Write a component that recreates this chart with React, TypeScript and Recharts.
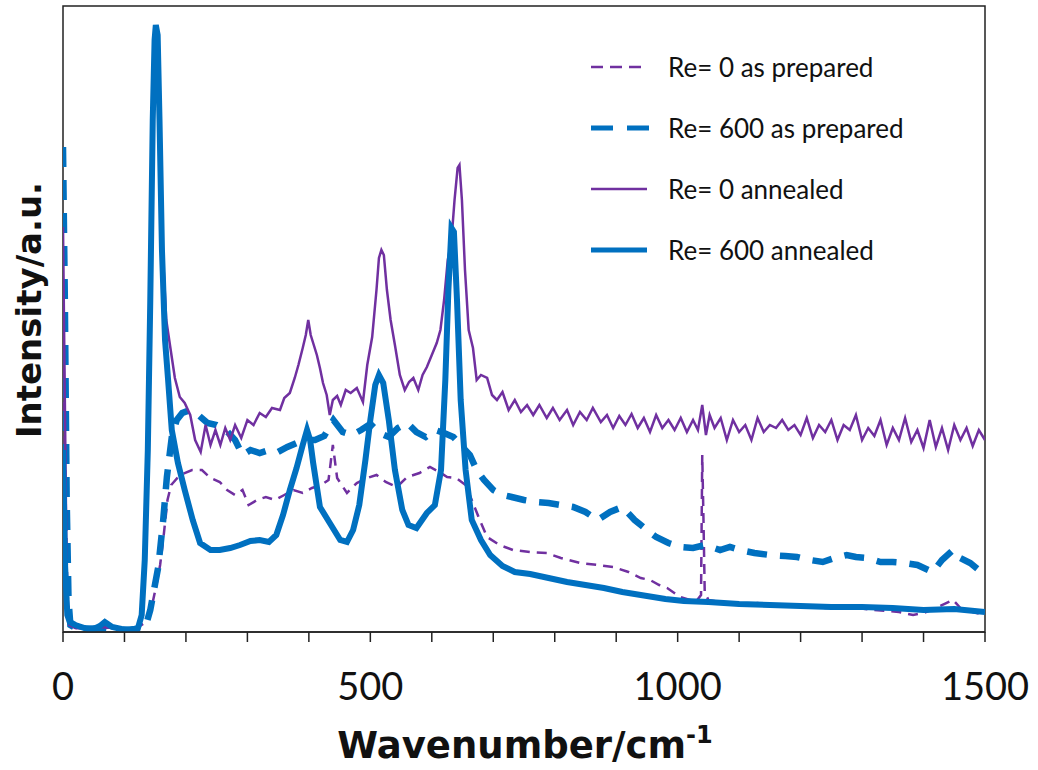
import React from 'react';
import { LineChart, Line, XAxis, YAxis, ReferenceArea } from 'recharts';

const PURPLE = '#7030a0';
const BLUE = '#0070c0';

// [wavenumber, intensity] (intensity in arbitrary units)
const re0Prepared: number[][] = [
  [0, 332], [3, 182], [7, 42], [11, 7], [25, 3], [40, 4], [60, 3], [80, 5], [100, 3], [120, 4],
  [135, 10], [145, 27], [152, 47], [158, 67], [163, 92], [170, 132], [176, 147], [186, 154],
  [198, 159], [210, 162], [226, 162], [240, 154], [255, 150], [267, 142], [280, 137], [292, 142],
  [302, 127], [316, 132], [330, 135], [345, 132], [360, 137], [375, 142], [390, 139], [405, 144],
  [420, 147], [432, 152], [439, 187], [446, 154], [462, 139], [478, 149], [495, 154], [510, 157],
  [525, 150], [543, 145], [560, 155], [580, 159], [597, 165], [612, 160], [625, 155], [640, 154],
  [655, 147], [667, 129], [678, 112], [690, 95], [710, 87], [732, 82], [760, 80], [787, 79],
  [810, 74], [841, 69], [870, 67], [895, 65], [920, 60], [940, 54], [955, 52], [970, 47],
  [983, 44], [1004, 35], [1020, 32], [1032, 32], [1038, 37], [1040, 177], [1042, 112], [1044, 40],
  [1050, 32], [1070, 30], [1100, 27], [1130, 29], [1160, 26], [1200, 27], [1240, 24], [1280, 25],
  [1320, 22], [1360, 20], [1383, 17], [1400, 19], [1420, 24], [1448, 32], [1460, 24], [1480, 20],
  [1500, 17],
];

const re600Prepared: number[][] = [
  [0, 485], [3, 332], [6, 132], [9, 32], [12, 7], [20, 4], [40, 3], [60, 4], [80, 3], [100, 2],
  [120, 3], [135, 7], [142, 22], [148, 42], [155, 65], [163, 112], [169, 155], [177, 195],
  [185, 212], [194, 219], [207, 222], [220, 217], [235, 209], [250, 207], [265, 202], [280, 192],
  [292, 177], [305, 182], [320, 179], [335, 182], [350, 180], [365, 185], [380, 189], [395, 192],
  [410, 192], [425, 196], [440, 212], [455, 200], [470, 197], [485, 202], [500, 208], [515, 199],
  [530, 195], [545, 204], [560, 209], [575, 200], [590, 195], [605, 202], [620, 199], [635, 195],
  [650, 185], [662, 177], [673, 162], [685, 152], [700, 142], [715, 137], [730, 135], [750, 132],
  [770, 130], [790, 129], [810, 127], [830, 125], [850, 120], [870, 112], [890, 120], [910, 125],
  [930, 112], [950, 102], [965, 95], [985, 89], [1005, 85], [1025, 84], [1045, 87], [1069, 82],
  [1085, 85], [1101, 82], [1125, 79], [1150, 77], [1175, 76], [1194, 75], [1215, 72], [1236, 70],
  [1255, 74], [1275, 77], [1290, 75], [1308, 74], [1330, 70], [1350, 70], [1370, 69], [1390, 67],
  [1415, 60], [1430, 72], [1448, 82], [1460, 74], [1476, 69], [1490, 62], [1500, 57],
];

const re0Annealed: number[][] = [
  [0, 405], [3, 232], [6, 52], [10, 7], [20, 4], [40, 3], [60, 5], [80, 4], [100, 3], [120, 4],
  [128, 14], [134, 72], [139, 182], [143, 332], [147, 512], [150, 597], [152, 602], [155, 572],
  [159, 462], [163, 372], [168, 312], [174, 287], [182, 254], [190, 235], [198, 229], [207, 217],
  [215, 192], [224, 180], [232, 207], [240, 187], [248, 202], [256, 187], [264, 204], [272, 192],
  [280, 207], [290, 194], [300, 212], [310, 207], [320, 219], [330, 215], [340, 224], [353, 222],
  [360, 234], [369, 239], [377, 254], [383, 267], [390, 284], [395, 297], [399, 312], [403, 297],
  [408, 287], [413, 277], [418, 264], [423, 249], [429, 237], [434, 217], [439, 232], [446, 236],
  [452, 227], [460, 242], [468, 239], [478, 244], [488, 230], [495, 267], [503, 295], [510, 342],
  [514, 374], [518, 382], [522, 377], [527, 342], [533, 312], [540, 287], [548, 257], [556, 242],
  [563, 250], [570, 254], [578, 242], [585, 257], [592, 265], [600, 277], [608, 289], [614, 302],
  [620, 332], [626, 372], [632, 392], [637, 432], [642, 464], [645, 467], [649, 432], [654, 362],
  [660, 302], [667, 284], [673, 252], [680, 257], [690, 254], [698, 237], [706, 232], [715, 240],
  [725, 222], [735, 232], [745, 220], [755, 227], [765, 217], [775, 227], [787, 214], [797, 224],
  [808, 212], [820, 222], [830, 207], [841, 220], [852, 212], [862, 224], [875, 210], [885, 217],
  [895, 204], [905, 216], [915, 207], [925, 218], [935, 204], [945, 214], [955, 200], [965, 217],
  [975, 204], [985, 212], [995, 202], [1005, 214], [1015, 200], [1025, 212], [1033, 202], [1040, 227],
  [1046, 197], [1052, 217], [1060, 204], [1070, 214], [1080, 192], [1090, 212], [1100, 200],
  [1110, 207], [1120, 192], [1130, 214], [1140, 200], [1150, 207], [1160, 204], [1170, 212],
  [1180, 202], [1190, 207], [1200, 197], [1210, 214], [1220, 194], [1230, 207], [1240, 200],
  [1250, 212], [1260, 192], [1270, 207], [1280, 202], [1290, 217], [1300, 192], [1310, 204],
  [1320, 196], [1330, 212], [1340, 187], [1350, 204], [1360, 192], [1370, 214], [1380, 190],
  [1390, 202], [1400, 184], [1410, 212], [1420, 185], [1430, 204], [1440, 182], [1450, 207],
  [1460, 192], [1470, 204], [1480, 186], [1490, 202], [1500, 192],
];

const re600Annealed: number[][] = [
  [0, 182], [3, 72], [7, 17], [11, 10], [20, 7], [35, 4], [50, 3], [60, 6], [68, 10], [80, 5],
  [95, 3], [110, 2], [122, 4], [128, 17], [133, 72], [138, 182], [142, 332], [146, 512], [149, 592],
  [151, 607], [154, 597], [157, 512], [161, 382], [166, 292], [171, 252], [177, 202], [187, 169],
  [198, 142], [211, 112], [223, 89], [240, 82], [255, 82], [272, 84], [288, 87], [305, 91],
  [320, 92], [335, 90], [347, 97], [358, 117], [369, 142], [380, 164], [390, 187], [397, 202],
  [402, 192], [407, 169], [418, 125], [434, 109], [451, 92], [462, 90], [472, 102], [482, 127],
  [492, 172], [500, 212], [508, 247], [514, 257], [521, 249], [530, 212], [540, 162], [552, 122],
  [562, 107], [575, 104], [592, 119], [605, 127], [615, 162], [622, 252], [627, 342], [632, 404],
  [636, 400], [641, 332], [647, 232], [655, 162], [665, 112], [680, 92], [695, 77], [715, 66],
  [735, 60], [760, 58], [790, 54], [820, 50], [850, 47], [880, 44], [910, 40], [950, 36], [980, 33],
  [1010, 31], [1050, 30], [1100, 28], [1150, 27], [1200, 26], [1250, 25], [1300, 25], [1350, 24],
  [1400, 22], [1450, 23], [1500, 20],
];

const xTicks = [0, 100, 200, 300, 400, 500, 600, 700, 800, 900, 1000, 1100, 1200, 1300, 1400, 1500];
const xLabels = [0, 500, 1000, 1500];

const toPoints = (arr: number[][]) => arr.map(([w, v]) => ({ w, v }));

const series = [
  { name: 'Re= 0 as prepared', data: toPoints(re0Prepared), color: PURPLE, width: 2.5, dash: '10 7' },
  { name: 'Re= 600 as prepared', data: toPoints(re600Prepared), color: BLUE, width: 6.5, dash: '20 13' },
  { name: 'Re= 0 annealed', data: toPoints(re0Annealed), color: PURPLE, width: 2.5, dash: undefined },
  { name: 'Re= 600 annealed', data: toPoints(re600Annealed), color: BLUE, width: 6, dash: undefined },
];

const legendDash = ['12 7', '22 14', undefined, undefined];

const XTick = ({ x, y, payload }: { x?: number; y?: number; payload?: { value: number } }) => {
  if (!payload || !xLabels.includes(payload.value)) return null;
  return (
    <text x={x} y={(y ?? 0) + 56} textAnchor="middle" fontSize={38} fill="#111" fontFamily="Lato, 'Noto Sans', sans-serif">
      {payload.value}
    </text>
  );
};

const LegendBox = () => (
  <div style={{ position: 'absolute', left: 588, top: 36, fontFamily: "Lato, 'Noto Sans', sans-serif", fontSize: 26, color: '#111' }}>
    {series.map((s, i) => (
      <div key={s.name} style={{ display: 'flex', alignItems: 'center', height: 61 }}>
        <svg width={62} height={12}>
          <line x1={3} x2={i === 1 ? 61 : 59} y1={6} y2={6} stroke={s.color}
            strokeWidth={i % 2 === 1 ? 5 : 2.5} strokeDasharray={legendDash[i]} />
        </svg>
        <span style={{ marginLeft: 18 }}>{s.name}</span>
      </div>
    ))}
  </div>
);

export default function App() {
  return (
    <div style={{ position: 'absolute', left: 0, top: 0, width: 1038, height: 770, background: '#fff' }}>
      <LineChart width={1038} height={770} margin={{ top: 6, right: 53, left: 63, bottom: 0 }}>
        <XAxis dataKey="w" type="number" domain={[0, 1500]} ticks={xTicks} interval={0}
          height={138} tickSize={10} tick={<XTick />} allowDataOverflow
          axisLine={{ stroke: '#222', strokeWidth: 1.5 }} tickLine={{ stroke: '#222', strokeWidth: 1.5 }} />
        <YAxis type="number" domain={[0, 626]} width={0} tick={false} tickLine={false}
          allowDataOverflow axisLine={false} />
        <ReferenceArea x1={0} x2={1500} y1={0} y2={626} fill="none" stroke="#222" strokeWidth={1.5}
          ifOverflow="visible" />
        {series.map((s) => (
          <Line key={s.name} data={s.data} dataKey="v" name={s.name} type="linear"
            stroke={s.color} strokeWidth={s.width} strokeDasharray={s.dash}
            dot={false} activeDot={false} isAnimationActive={false} />
        ))}
      </LineChart>
      <LegendBox />
      <div style={{ position: 'absolute', left: 0, top: 0, pointerEvents: 'none' }}>
        <svg width={1038} height={770}>
          <text x={525} y={758} textAnchor="middle" fontSize={37} fontWeight="bold" fill="#111"
            fontFamily="'DejaVu Sans', sans-serif">
            Wavenumber/cm<tspan fontSize={24} dy={-15}>-1</tspan>
          </text>
          <text transform="translate(41,310) rotate(-90)" textAnchor="middle" fontSize={34} fontWeight="bold"
            fill="#111" fontFamily="'DejaVu Sans', sans-serif">
            Intensity/a.u.
          </text>
        </svg>
      </div>
    </div>
  );
}
